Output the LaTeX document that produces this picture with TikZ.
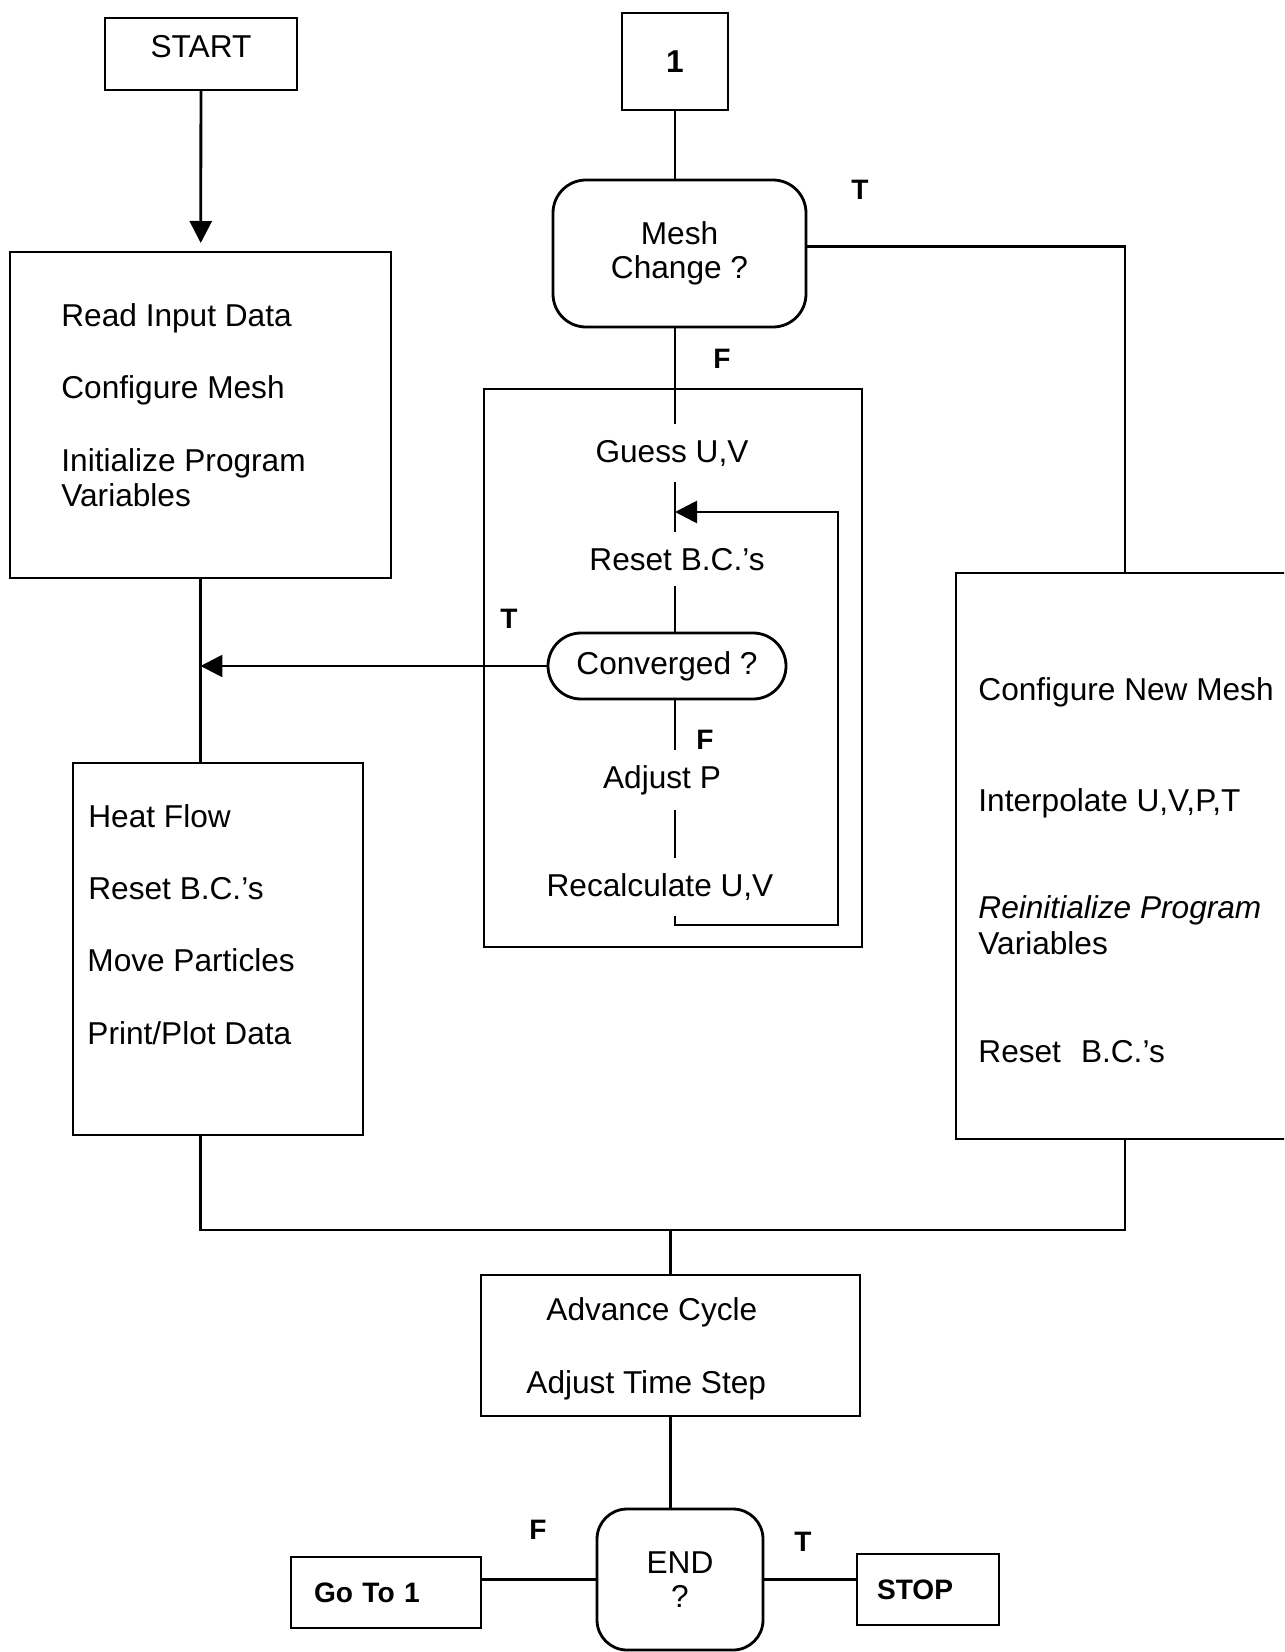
\documentclass[tikz,border=0pt]{standalone}
\usepackage{fontspec}
\setmainfont{Liberation Sans}
\usetikzlibrary{arrows.meta}
\newlength{\unitpx}
\setlength{\unitpx}{0.02cm}
\begin{document}
\begin{tikzpicture}[x=0.02cm, y=-0.02cm, line width=1.6pt,
    font=\fontsize{18}{21}\selectfont,
    box/.style={draw, rectangle, inner sep=0pt, outer sep=0pt},
    rbox/.style={box, rounded corners=0.66cm},
    txt/.style={anchor=base west, inner sep=0pt},
    midtxt/.style={anchor=base, inner xsep=0pt, inner ysep=8pt},
    tf/.style={font=\bfseries\fontsize{16}{18}\selectfont},
    arr/.style={-{Triangle[length=4.4mm,width=4.4mm]}}]
    \path[use as bounding box] (0,0) rectangle (1284,1652);
    \clip (0,0) rectangle (1284,1652);

    % left column
    \node[box, minimum width=192\unitpx, minimum height=72\unitpx, text depth=0.3cm] at (201,54) (start) {START};
    \node[box, minimum width=381\unitpx, minimum height=326\unitpx] at (200.5,415) (read) {};
    \node[txt] at (60,327) (readA) {Read Input Data};
    \node[txt] at (60,398) (readB) {Configure Mesh};
    \node[txt] at (60,471) (readC) {Initialize Program};
    \node[txt] at (60,506) (readD) {Variables};
    \node[box, minimum width=290\unitpx, minimum height=372\unitpx] at (218,949) (heat) {};
    \node[txt] at (87,827) (heatA) {Heat Flow};
    \node[txt] at (87,899) (heatB) {Reset B.C.'s};
    \node[txt] at (86,971) (heatC) {Move Particles};
    \node[txt] at (86,1044) (heatD) {Print/Plot Data};

    % middle column
    \node[box, minimum width=106\unitpx, minimum height=97\unitpx, font=\bfseries\fontsize{18}{21}\selectfont] at (675,61.5) (one) {1};
    \node[rbox, minimum width=253\unitpx, minimum height=147\unitpx, align=center, font=\fontsize{18}{19}\selectfont] at (679.5,253.5) (mesh) {Mesh\\Change ?};
    \node[box, minimum width=378\unitpx, minimum height=558\unitpx] at (673,668) (inner) {};
    \node[midtxt] at (672,462) (guess) {Guess U,V};
    \node[midtxt] at (677,570) (resetin) {Reset B.C.'s};
    \node[box, rounded corners=0.66cm, minimum width=238\unitpx, minimum height=66\unitpx] at (667,666) (conv) {Converged ?};
    \node[midtxt] at (662,788) (adjp) {Adjust P};
    \node[midtxt] at (660,896) (recalc) {Recalculate U,V};

    % right column
    \node[box, minimum width=338\unitpx, minimum height=566\unitpx] at (1125,856) (newmesh) {};
    \node[txt] at (977,700) (newA) {Configure New Mesh};
    \node[txt] at (977,811) (newB) {Interpolate U,V,P,T};
    \node[txt] at (977,918) (newC) {\itshape Reinitialize Program};
    \node[txt] at (977,954) (newD) {Variables};
    \node[txt] at (977,1062) (newE) {Reset\hspace{0.4cm}B.C.'s};

    % bottom
    \node[box, minimum width=379\unitpx, minimum height=141\unitpx] at (670.5,1345.5) (adv) {};
    \node[txt] at (545,1320) (advA) {Advance Cycle};
    \node[txt] at (525,1393) (advB) {Adjust Time Step};
    \node[box, rounded corners=0.6cm, minimum width=166\unitpx, minimum height=141\unitpx, align=center, font=\fontsize{18}{19}\selectfont] at (680,1579.5) (endq) {END\\?};
    \node[box, tf, minimum height=71\unitpx, inner xsep=0.46cm, text width=2.88cm, align=left] at (386,1592.5) (goto) {Go To 1};
    \node[box, tf, minimum height=71\unitpx, inner xsep=0.4cm, text width=2.04cm, align=left] at (928,1589.5) (stop) {STOP};

    % T / F labels
    \node[tf] at (860,190) (tmesh) {T};
    \node[tf] at (722,359) (fmesh) {F};
    \node[tf] at (509,619) (tconv) {T};
    \node[tf] at (705,740) (fconv) {F};
    \node[tf] at (538,1530) (fend) {F};
    \node[tf] at (803,1542) (tend) {T};

    \coordinate (join) at (670.5,1230);
    \coordinate (loopbot) at (838,925);
    \coordinate (looptop) at (838,512);

    \draw[arr, shorten >=9\unitpx] (start) -- (read);
    \draw (read.south) -- (read.south |- heat.north);
    \draw[arr] (conv.west) -- (conv.west -| read.south);
    \draw (read.south |- heat.south) |- (join) -| (newmesh.south);
    \draw (join) -- (adv.north);
    \draw (adv.south) -- (adv.south |- endq.north);
    \draw (endq.west) -- (endq.west -| goto.east);
    \draw (endq.east) -- (endq.east -| stop.west);

    \draw (one.south) -- (one.south |- mesh.north);
    \draw ([yshift=0.14cm]mesh.east) -| (newmesh.north);
    \draw (one.south |- mesh.south) -- (one.south |- guess.north);
    \draw (one.south |- guess.south) -- (one.south |- resetin.north);
    \draw (one.south |- resetin.south) -- (one.south |- conv.north);
    \draw (one.south |- conv.south) -- (one.south |- adjp.north);
    \draw (one.south |- adjp.south) -- (one.south |- recalc.north);
    \draw[arr] (one.south |- recalc.south) |- (loopbot) -- (looptop) -- (looptop -| one.south);
\end{tikzpicture}
\end{document}
